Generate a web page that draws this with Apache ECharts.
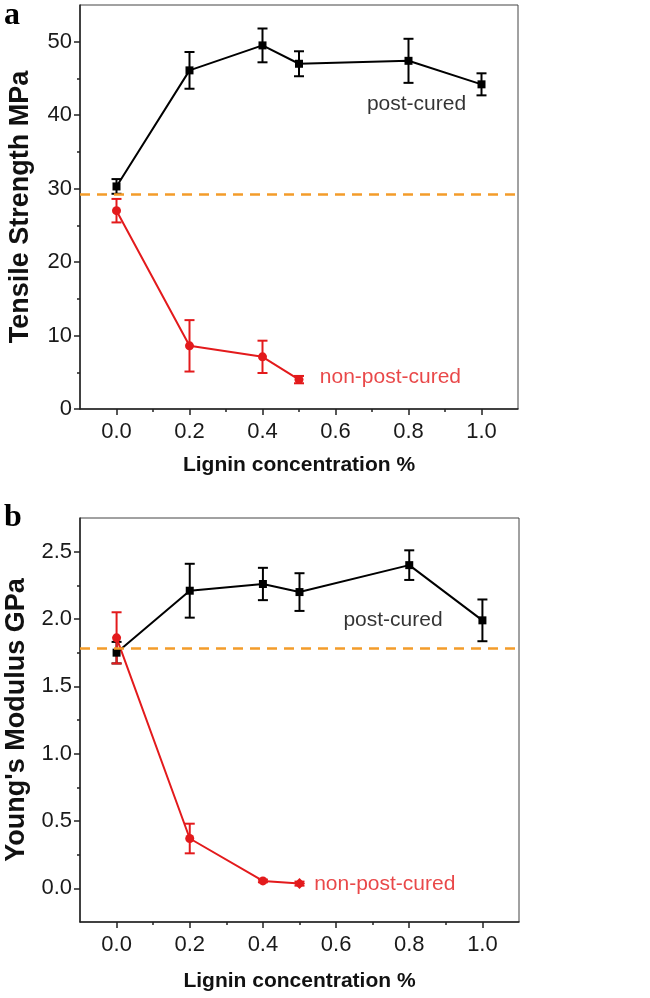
<!DOCTYPE html>
<html><head><meta charset="utf-8">
<script src="https://cdn.jsdelivr.net/npm/echarts@6/dist/echarts.min.js"></script>
<style>html,body{margin:0;padding:0;background:#fff}#c{width:650px;height:998px}</style>
</head><body><div id="c"></div>
<script>
// ---- data ----
const xPost = [0, 0.2, 0.4, 0.5, 0.8, 1.0];
const xNon = [0, 0.2, 0.4, 0.5];
const tsPost = [30.3, 46.1, 49.5, 47.0, 47.4, 44.2];
const tsPostErr = [1.0, 2.5, 2.3, 1.7, 3.0, 1.5];
const tsNon = [27.0, 8.6, 7.1, 4.0];
const tsNonErr = [1.6, 3.5, 2.2, 0.5];
const tsRef = 29.2;
const ymPost = [1.75, 2.21, 2.26, 2.20, 2.40, 1.99];
const ymPostErr = [0.08, 0.2, 0.12, 0.14, 0.11, 0.155];
const ymNon = [1.86, 0.37, 0.055, 0.035];
const ymNonErr = [0.19, 0.11, 0.01, 0.015];
const ymRef = 1.78;
// ticks
const xMajor = [0, 0.2, 0.4, 0.6, 0.8, 1.0];
const xMinor = [0.1, 0.3, 0.5, 0.7, 0.9];
const xTickLabels = ['0.0', '0.2', '0.4', '0.6', '0.8', '1.0'];
const tsMajor = [0, 10, 20, 30, 40, 50];
const tsMinor = [5, 15, 25, 35, 45];
const tsTickLabels = ['0', '10', '20', '30', '40', '50'];
const ymMajor = [0, 0.5, 1.0, 1.5, 2.0, 2.5];
const ymMinor = [0.25, 0.75, 1.25, 1.75, 2.25];
const ymTickLabels = ['0.0', '0.5', '1.0', '1.5', '2.0', '2.5'];
const textLabels = {
  tsPost: [0.686, 41.5], tsNon: [0.557, 4.27],
  ymPost: [0.62, 1.99], ymNon: [0.54, 0.03]
};

const BLACK = '#000', RED = '#e31a1c', ORANGE = '#f39c2a';
const FONT = '"Liberation Sans", Arial, sans-serif';

function pairs(xs, ys) { return xs.map((x, i) => [x, ys[i]]); }
function errData(xs, ys, es) { return xs.map((x, i) => [x, ys[i] - es[i], ys[i] + es[i]]); }

function errSeries(idx, xs, ys, es, color) {
  return {
    type: 'custom', xAxisIndex: idx, yAxisIndex: idx, z: 3,
    data: errData(xs, ys, es),
    renderItem: function (params, api) {
      const lo = api.coord([api.value(0), api.value(1)]);
      const hi = api.coord([api.value(0), api.value(2)]);
      const w = 5;
      const st = { stroke: color, lineWidth: 2 };
      return { type: 'group', children: [
        { type: 'line', shape: { x1: lo[0], y1: lo[1], x2: hi[0], y2: hi[1] }, style: st },
        { type: 'line', shape: { x1: lo[0] - w, y1: lo[1], x2: lo[0] + w, y2: lo[1] }, style: st },
        { type: 'line', shape: { x1: hi[0] - w, y1: hi[1], x2: hi[0] + w, y2: hi[1] }, style: st }
      ]};
    }
  };
}

function lineSeries(idx, data, color, symbol, size, z) {
  return {
    type: 'line', xAxisIndex: idx, yAxisIndex: idx, data: data, z: z,
    symbol: symbol, symbolSize: size, showSymbol: true,
    lineStyle: { color: color, width: 2 }, itemStyle: { color: color },
    animation: false
  };
}

function textSeries(idx, pos, txt, color) {
  return {
    type: 'scatter', xAxisIndex: idx, yAxisIndex: idx, data: [pos], symbolSize: 0,
    label: { show: true, position: 'right', distance: 0, formatter: txt, color: color, fontSize: 21, fontFamily: FONT },
    silent: true, z: 5
  };
}

function refLine(idx, v) {
  return {
    type: 'line', xAxisIndex: idx, yAxisIndex: idx, data: [], z: 4,
    markLine: { silent: true, symbol: 'none', label: { show: false },
      lineStyle: { color: ORANGE, width: 2.5, type: [10, 7] },
      data: [{ yAxis: v }], animation: false }
  };
}

function xAxisMain(grid, gap) {
  return {
    type: 'value', gridIndex: grid, position: 'bottom', min: -0.1, max: 1.1,
    name: 'Lignin concentration %', nameLocation: 'middle', nameGap: gap,
    nameTextStyle: { fontSize: 21, fontWeight: 'bold', color: '#111', fontFamily: FONT },
    axisLine: { onZero: false, lineStyle: { color: '#222', width: 1.5 } },
    axisTick: { inside: false, length: 6, customValues: xMajor, lineStyle: { color: '#222', width: 1.5 } },
    splitLine: { show: false },
    axisLabel: { fontSize: 22, color: '#1a1a1a', fontFamily: FONT, margin: 12, customValues: xMajor,
      formatter: function (v) { return xTickLabels[xMajor.findIndex(t => Math.abs(t - v) < 1e-6)]; } }
  };
}
function xAxisMinor(grid) {
  return {
    type: 'value', gridIndex: grid, position: 'bottom', offset: 0, min: -0.1, max: 1.1,
    axisLine: { show: false, onZero: false },
    axisTick: { show: true, inside: false, length: 3, customValues: xMinor, lineStyle: { color: '#222', width: 1.5 } },
    axisLabel: { show: false }, splitLine: { show: false }
  };
}

function yAxisMain(grid, name, min, max, major, labels) {
  return {
    type: 'value', gridIndex: grid, position: 'left', min: min, max: max,
    name: name, nameLocation: 'middle', nameGap: 46,
    nameTextStyle: { fontSize: 27, fontWeight: 'bold', color: '#111', fontFamily: FONT },
    axisLine: { onZero: false, lineStyle: { color: '#222', width: 1.5 } },
    axisTick: { inside: false, length: 6, customValues: major, lineStyle: { color: '#222', width: 1.5 } },
    splitLine: { show: false },
    axisLabel: { fontSize: 22, color: '#1a1a1a', fontFamily: FONT, margin: 8, customValues: major,
      formatter: function (v) { return labels[major.findIndex(t => Math.abs(t - v) < 1e-6)]; } }
  };
}
function yAxisMinor(grid, min, max, minor) {
  return {
    type: 'value', gridIndex: grid, position: 'left', offset: 0, min: min, max: max,
    axisLine: { show: false, onZero: false },
    axisTick: { show: true, inside: false, length: 3, customValues: minor, lineStyle: { color: '#222', width: 1.5 } },
    axisLabel: { show: false }, splitLine: { show: false }
  };
}

const chart = echarts.init(document.getElementById('c'));
chart.setOption({
  animation: false,
  backgroundColor: '#fff',
  grid: [
    { left: 80, top: 5, width: 438, height: 404, show: true, borderColor: '#444', borderWidth: 1, outerBoundsMode: 'none', containLabel: false },
    { left: 80, top: 518, width: 439, height: 404, show: true, borderColor: '#444', borderWidth: 1, outerBoundsMode: 'none', containLabel: false }
  ],
  xAxis: [xAxisMain(0, 46), xAxisMinor(0), xAxisMain(1, 49), xAxisMinor(1)],
  yAxis: [
    yAxisMain(0, 'Tensile Strength MPa', 0, 55, tsMajor, tsTickLabels),
    yAxisMinor(0, 0, 55, tsMinor),
    yAxisMain(1, "Young's Modulus GPa", -0.25, 2.75, ymMajor, ymTickLabels),
    yAxisMinor(1, -0.25, 2.75, ymMinor)
  ],
  graphic: [
    { type: 'text', left: 4, top: 0, style: { text: 'a', font: 'bold 32px "Liberation Serif", "DejaVu Serif", serif', fill: '#000' } },
    { type: 'text', left: 4, top: 502, style: { text: 'b', font: 'bold 32px "Liberation Serif", "DejaVu Serif", serif', fill: '#000' } }
  ],
  series: [
    refLine(0, tsRef),
    errSeries(0, xPost, tsPost, tsPostErr, BLACK),
    lineSeries(0, pairs(xPost, tsPost), BLACK, 'rect', 8, 3),
    errSeries(0, xNon, tsNon, tsNonErr, RED),
    lineSeries(0, pairs(xNon, tsNon), RED, 'circle', 9, 3),
    textSeries(0, textLabels.tsPost, 'post-cured', '#000'),
    textSeries(0, textLabels.tsNon, 'non-post-cured', RED),

    refLine(2, ymRef),
    errSeries(2, xPost, ymPost, ymPostErr, BLACK),
    lineSeries(2, pairs(xPost, ymPost), BLACK, 'rect', 8, 3),
    errSeries(2, xNon, ymNon, ymNonErr, RED),
    lineSeries(2, pairs(xNon, ymNon).map((p, i) => i === 3 ? { value: p, symbol: 'diamond', symbolSize: 11 } : p), RED, 'circle', 9, 3),
    textSeries(2, textLabels.ymPost, 'post-cured', '#000'),
    textSeries(2, textLabels.ymNon, 'non-post-cured', RED)
  ]
});
</script></body></html>
